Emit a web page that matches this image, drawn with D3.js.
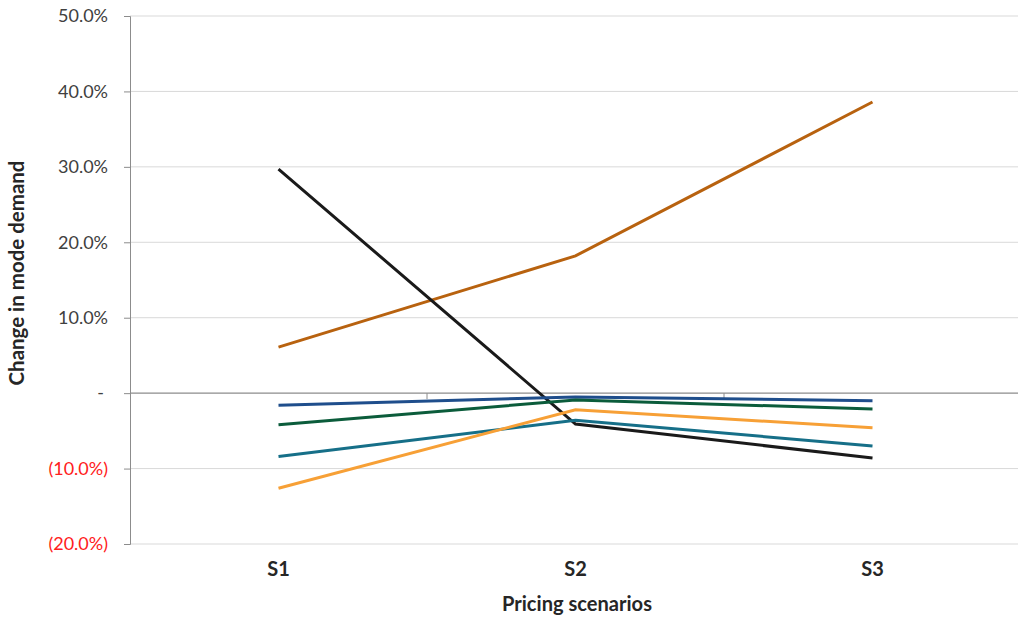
<!DOCTYPE html>
<html>
<head>
<meta charset="utf-8">
<script src="https://cdn.jsdelivr.net/npm/d3@7"></script>
<style>
  body { margin: 0; background: #fff; }
  text { font-family: Lato, "Open Sans", sans-serif; }
</style>
</head>
<body>
<div id="chart"></div>
<script>
// data (percent change in mode demand)
const scenarios = ['S1', 'S2', 'S3'];
const seriesNames = ['brown', 'black', 'navy', 'green', 'teal', 'orange'];
const seriesColors = ['#B8620F', '#1A1A1A', '#1F4E8C', '#0B5C3B', '#166F88', '#F7A036'];
const brownVals = [6.1, 18.2, 38.6];
const blackVals = [29.7, -4.1, -8.6];
const navyVals = [-1.6, -0.5, -1.0];
const greenVals = [-4.2, -0.9, -2.1];
const tealVals = [-8.4, -3.6, -7.0];
const orangeVals = [-12.6, -2.2, -4.6];
const yTicks = [50, 40, 30, 20, 10, 0, -10, -20];

const allVals = [brownVals, blackVals, navyVals, greenVals, tealVals, orangeVals];

const W = 1018, H = 619;
const margin = {top: 16, right: -3, bottom: 75, left: 130};
const width = W - margin.left - margin.right;
const height = H - margin.top - margin.bottom;

const svg = d3.select('#chart')
  .append('svg')
  .attr('width', W)
  .attr('height', H);

const g = svg.append('g')
  .attr('transform', `translate(${margin.left},${margin.top})`);

//scales
const x = d3.scaleBand().domain(scenarios).range([0, width]);
const y = d3.scaleLinear().domain([-20, 50]).range([height, 0]);

//gridlines
g.selectAll('.grid')
  .data(yTicks.filter(d => d !== 0))
  .enter()
  .append('line')
  .attr('x1', 0).attr('x2', width)
  .attr('y1', d => y(d)).attr('y2', d => y(d))
  .attr('stroke', '#d9d9d9')
  .attr('stroke-width', 1);

// zero line with category tick marks
g.append('line')
  .attr('x1', 0).attr('x2', width)
  .attr('y1', y(0)).attr('y2', y(0))
  .attr('stroke', '#8c8c8c')
  .attr('stroke-width', 1.3);

g.selectAll('.ctick')
  .data(scenarios.slice(1))
  .enter()
  .append('line')
  .attr('x1', d => x(d)).attr('x2', d => x(d))
  .attr('y1', y(0)).attr('y2', y(0) + 6)
  .attr('stroke', '#8c8c8c');

//y axis
const yAxis = d3.axisLeft(y)
  .tickValues(yTicks)
  .tickSize(6)
  .tickPadding(10)
  .tickFormat(d => d === 0 ? '-' : d < 0 ? `(${Math.abs(d).toFixed(1)}%)` : `${d.toFixed(1)}%`);

const ya = g.append('g').call(yAxis);
ya.select('.domain').attr('stroke', '#8c8c8c').attr('d', `M-6,0.5H0.5V${height + 0.5}H-6`);
ya.selectAll('.tick line').attr('stroke', '#8c8c8c');
ya.selectAll('.tick text')
  .attr('font-size', 18)
  .attr('font-family', 'Lato, sans-serif')
  .attr('fill', d => d < 0 ? '#FF2020' : '#404040')
  .attr('x', d => d === 0 ? -26 : -22);

//x labels
g.selectAll('.xlab')
  .data(scenarios)
  .enter()
  .append('text')
  .attr('x', d => x(d) + x.bandwidth() / 2)
  .attr('y', height + 32)
  .attr('text-anchor', 'middle')
  .attr('font-size', 20)
  .attr('font-weight', 'bold')
  .attr('fill', '#262626')
  .text(d => d);

// axis titles, sized to span about the same length as the reference
function fitText(sel, target) {
  const len = sel.node().getComputedTextLength();
  const fs = +sel.attr('font-size');
  sel.attr('font-size', fs * target / len);
}

const xTitle = svg.append('text')
  .attr('x', 577)
  .attr('y', 611)
  .attr('text-anchor', 'middle')
  .attr('font-size', 16)
  .attr('font-weight', 'bold')
  .attr('fill', '#262626')
  .text('Pricing scenarios');
fitText(xTitle, 150);

const yTitle = svg.append('text')
  .attr('transform', `translate(24,273) rotate(-90)`)
  .attr('text-anchor', 'middle')
  .attr('font-size', 16)
  .attr('font-weight', 'bold')
  .attr('fill', '#262626')
  .text('Change in mode demand');
fitText(yTitle, 225);

//lines
const line = d3.line()
  .x((d, i) => x(scenarios[i]) + x.bandwidth() / 2)
  .y(d => y(d));

g.selectAll('.series')
  .data(allVals)
  .enter()
  .append('path')
  .attr('class', (d, i) => 'series ' + seriesNames[i])
  .attr('d', line)
  .attr('fill', 'none')
  .attr('stroke', (d, i) => seriesColors[i])
  .attr('stroke-width', 3);
</script>
</body>
</html>
